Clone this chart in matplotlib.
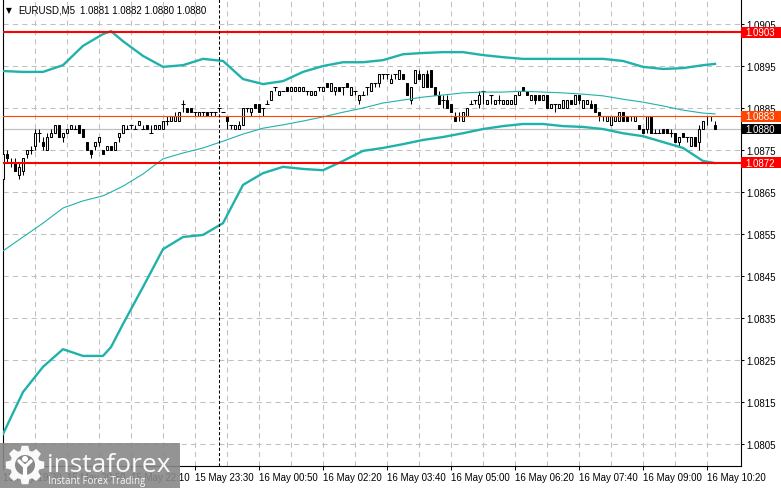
import numpy as np
import matplotlib
matplotlib.use("Agg")
import matplotlib.pyplot as plt
from matplotlib.patches import Rectangle, Polygon, Circle
from matplotlib.transforms import blended_transform_factory

plt.rcParams['font.family'] = ['Liberation Sans', 'DejaVu Sans']

# EURUSD M5 candles (4-digit quotes), oldest first
opens = [
    1.0868, 1.0874, 1.0872, 1.0872, 1.0869, 1.0870, 1.0874, 1.0875, 1.0876, 1.0879, 1.0877, 1.0875, 1.0878, 1.0879, 1.0881, 1.0878,
    1.0879, 1.0880, 1.0880, 1.0881, 1.0880, 1.0877, 1.0875, 1.0876, 1.0877, 1.0875, 1.0875, 1.0876, 1.0875, 1.0878, 1.0879, 1.0880,
    1.0881, 1.0880, 1.0881, 1.0880, 1.0881, 1.0879, 1.0880, 1.0880, 1.0880, 1.0882, 1.0882, 1.0882, 1.0882, 1.0886, 1.0885, 1.0885,
    1.0884, 1.0883, 1.0884, 1.0884, 1.0884, 1.0884, 1.0885, 1.0884, 1.0883, 1.0881, 1.0880, 1.0880, 1.0881, 1.0885, 1.0884, 1.0886,
    1.0886, 1.0885, 1.0886, 1.0887, 1.0890, 1.0888, 1.0889, 1.0890, 1.0889, 1.0889, 1.0889, 1.0889, 1.0889, 1.0888, 1.0888, 1.0890,
    1.0889, 1.0891, 1.0889, 1.0889, 1.0890, 1.0890, 1.0891, 1.0888, 1.0889, 1.0887, 1.0888, 1.0890, 1.0889, 1.0891, 1.0891, 1.0893,
    1.0893, 1.0891, 1.0893, 1.0892, 1.0893, 1.0891, 1.0887, 1.0891, 1.0893, 1.0890, 1.0893, 1.0894, 1.0890, 1.0888, 1.0887, 1.0887,
    1.0886, 1.0883, 1.0883, 1.0882, 1.0883, 1.0886, 1.0887, 1.0886, 1.0889, 1.0886, 1.0888, 1.0886, 1.0887, 1.0886, 1.0886, 1.0886,
    1.0886, 1.0888, 1.0890, 1.0889, 1.0887, 1.0888, 1.0888, 1.0887, 1.0888, 1.0885, 1.0886, 1.0885, 1.0885, 1.0885, 1.0887, 1.0886,
    1.0888, 1.0885, 1.0886, 1.0886, 1.0886, 1.0884, 1.0883, 1.0882, 1.0881, 1.0882, 1.0882, 1.0884, 1.0883, 1.0883, 1.0882, 1.0881,
    1.0880, 1.0880, 1.0883, 1.0879, 1.0879, 1.0880, 1.0880, 1.0879, 1.0879, 1.0877, 1.0879, 1.0878, 1.0876, 1.0878, 1.0877, 1.0880,
    1.0883, 1.0883, 1.0881]
highs = [
    1.0875, 1.0875, 1.0873, 1.0873, 1.0872, 1.0873, 1.0875, 1.0876, 1.0880, 1.0880, 1.0878, 1.0879, 1.0880, 1.0881, 1.0881, 1.0879,
    1.0880, 1.0881, 1.0881, 1.0881, 1.0880, 1.0877, 1.0875, 1.0877, 1.0878, 1.0875, 1.0876, 1.0876, 1.0877, 1.0879, 1.0881, 1.0881,
    1.0881, 1.0881, 1.0882, 1.0881, 1.0881, 1.0881, 1.0881, 1.0881, 1.0882, 1.0883, 1.0883, 1.0884, 1.0884, 1.0887, 1.0885, 1.0885,
    1.0884, 1.0884, 1.0884, 1.0884, 1.0884, 1.0884, 1.0885, 1.0884, 1.0883, 1.0881, 1.0881, 1.0882, 1.0885, 1.0885, 1.0885, 1.0886,
    1.0886, 1.0885, 1.0887, 1.0889, 1.0890, 1.0889, 1.0889, 1.0890, 1.0890, 1.0890, 1.0890, 1.0890, 1.0889, 1.0889, 1.0889, 1.0890,
    1.0890, 1.0891, 1.0891, 1.0890, 1.0890, 1.0890, 1.0891, 1.0890, 1.0889, 1.0888, 1.0889, 1.0890, 1.0891, 1.0891, 1.0893, 1.0893,
    1.0893, 1.0893, 1.0893, 1.0894, 1.0893, 1.0891, 1.0890, 1.0894, 1.0894, 1.0893, 1.0894, 1.0894, 1.0890, 1.0889, 1.0888, 1.0888,
    1.0886, 1.0884, 1.0884, 1.0884, 1.0885, 1.0887, 1.0887, 1.0889, 1.0889, 1.0887, 1.0888, 1.0887, 1.0888, 1.0887, 1.0887, 1.0887,
    1.0888, 1.0889, 1.0890, 1.0889, 1.0888, 1.0888, 1.0888, 1.0888, 1.0888, 1.0886, 1.0886, 1.0886, 1.0887, 1.0887, 1.0887, 1.0888,
    1.0888, 1.0887, 1.0887, 1.0887, 1.0886, 1.0884, 1.0883, 1.0883, 1.0883, 1.0883, 1.0884, 1.0884, 1.0883, 1.0883, 1.0883, 1.0881,
    1.0880, 1.0883, 1.0883, 1.0880, 1.0880, 1.0880, 1.0880, 1.0880, 1.0879, 1.0878, 1.0879, 1.0878, 1.0878, 1.0878, 1.0881, 1.0882,
    1.0883, 1.0883, 1.0882]
lows = [
    1.0866, 1.0872, 1.0871, 1.0870, 1.0868, 1.0869, 1.0873, 1.0874, 1.0875, 1.0877, 1.0875, 1.0875, 1.0878, 1.0879, 1.0878, 1.0877,
    1.0879, 1.0880, 1.0880, 1.0879, 1.0878, 1.0875, 1.0873, 1.0875, 1.0876, 1.0874, 1.0875, 1.0875, 1.0875, 1.0877, 1.0879, 1.0880,
    1.0880, 1.0880, 1.0881, 1.0880, 1.0880, 1.0879, 1.0880, 1.0880, 1.0880, 1.0881, 1.0882, 1.0882, 1.0882, 1.0884, 1.0884, 1.0884,
    1.0883, 1.0883, 1.0883, 1.0883, 1.0883, 1.0883, 1.0884, 1.0884, 1.0880, 1.0880, 1.0880, 1.0880, 1.0881, 1.0884, 1.0883, 1.0885,
    1.0884, 1.0883, 1.0886, 1.0887, 1.0889, 1.0888, 1.0889, 1.0889, 1.0889, 1.0889, 1.0889, 1.0889, 1.0888, 1.0888, 1.0888, 1.0889,
    1.0889, 1.0890, 1.0889, 1.0888, 1.0889, 1.0888, 1.0890, 1.0888, 1.0888, 1.0886, 1.0888, 1.0888, 1.0889, 1.0890, 1.0890, 1.0892,
    1.0892, 1.0891, 1.0892, 1.0892, 1.0892, 1.0888, 1.0886, 1.0891, 1.0892, 1.0890, 1.0890, 1.0890, 1.0888, 1.0886, 1.0885, 1.0885,
    1.0884, 1.0882, 1.0882, 1.0882, 1.0883, 1.0886, 1.0886, 1.0885, 1.0886, 1.0886, 1.0886, 1.0886, 1.0886, 1.0886, 1.0886, 1.0886,
    1.0886, 1.0888, 1.0889, 1.0888, 1.0887, 1.0886, 1.0887, 1.0887, 1.0885, 1.0885, 1.0884, 1.0885, 1.0885, 1.0885, 1.0886, 1.0886,
    1.0886, 1.0885, 1.0886, 1.0885, 1.0884, 1.0882, 1.0882, 1.0882, 1.0881, 1.0882, 1.0882, 1.0882, 1.0882, 1.0882, 1.0882, 1.0880,
    1.0879, 1.0879, 1.0879, 1.0879, 1.0879, 1.0879, 1.0879, 1.0878, 1.0877, 1.0876, 1.0878, 1.0877, 1.0876, 1.0876, 1.0875, 1.0880,
    1.0881, 1.0882, 1.0880]
closes = [
    1.0874, 1.0873, 1.0872, 1.0870, 1.0871, 1.0873, 1.0875, 1.0875, 1.0879, 1.0879, 1.0876, 1.0878, 1.0879, 1.0881, 1.0878, 1.0879,
    1.0880, 1.0881, 1.0880, 1.0879, 1.0878, 1.0875, 1.0874, 1.0877, 1.0878, 1.0874, 1.0876, 1.0875, 1.0877, 1.0879, 1.0881, 1.0880,
    1.0881, 1.0880, 1.0882, 1.0880, 1.0880, 1.0879, 1.0881, 1.0881, 1.0882, 1.0882, 1.0883, 1.0883, 1.0884, 1.0886, 1.0884, 1.0884,
    1.0884, 1.0884, 1.0884, 1.0883, 1.0884, 1.0884, 1.0885, 1.0884, 1.0882, 1.0881, 1.0881, 1.0881, 1.0885, 1.0885, 1.0885, 1.0885,
    1.0884, 1.0885, 1.0886, 1.0889, 1.0890, 1.0889, 1.0889, 1.0889, 1.0890, 1.0890, 1.0890, 1.0890, 1.0889, 1.0889, 1.0889, 1.0890,
    1.0890, 1.0890, 1.0891, 1.0890, 1.0889, 1.0890, 1.0890, 1.0890, 1.0889, 1.0888, 1.0888, 1.0890, 1.0891, 1.0891, 1.0893, 1.0893,
    1.0893, 1.0892, 1.0893, 1.0894, 1.0892, 1.0888, 1.0890, 1.0894, 1.0892, 1.0893, 1.0890, 1.0890, 1.0888, 1.0886, 1.0887, 1.0885,
    1.0884, 1.0882, 1.0883, 1.0884, 1.0885, 1.0886, 1.0887, 1.0888, 1.0889, 1.0887, 1.0888, 1.0887, 1.0887, 1.0887, 1.0887, 1.0887,
    1.0888, 1.0889, 1.0889, 1.0888, 1.0888, 1.0887, 1.0887, 1.0888, 1.0885, 1.0886, 1.0886, 1.0886, 1.0887, 1.0887, 1.0886, 1.0888,
    1.0887, 1.0887, 1.0887, 1.0885, 1.0884, 1.0883, 1.0883, 1.0883, 1.0883, 1.0883, 1.0884, 1.0882, 1.0882, 1.0883, 1.0883, 1.0880,
    1.0879, 1.0883, 1.0879, 1.0879, 1.0879, 1.0879, 1.0879, 1.0879, 1.0877, 1.0878, 1.0878, 1.0878, 1.0878, 1.0876, 1.0880, 1.0882,
    1.0883, 1.0883, 1.0880]

# Bollinger bands at these bar numbers
band_idx = [0, 5, 10, 15, 20, 25, 27, 30, 35, 40, 45, 50, 55, 60, 65, 70, 75, 80, 85, 90,
            95, 100, 105, 110, 115, 120, 125, 130, 135, 140, 145, 150, 155, 160, 165, 170, 175, 178]
upper_band = [1.08938, 1.08936, 1.08936, 1.08952, 1.08998, 1.09026, 1.09033, 1.09009, 1.08974, 1.08948,
              1.08952, 1.08967, 1.08962, 1.08919, 1.08907, 1.08914, 1.08936, 1.08950, 1.08959, 1.08959,
              1.08964, 1.08978, 1.08981, 1.08983, 1.08983, 1.08976, 1.08971, 1.08967, 1.08967, 1.08967,
              1.08967, 1.08967, 1.08962, 1.08948, 1.08943, 1.08945, 1.08952, 1.08955]
middle_band = [1.08510, 1.08543, 1.08576, 1.08612, 1.08629, 1.08641, 1.08650, 1.08664, 1.08693, 1.08729,
               1.08743, 1.08755, 1.08771, 1.08788, 1.08802, 1.08810, 1.08819, 1.08829, 1.08840, 1.08850,
               1.08862, 1.08869, 1.08876, 1.08881, 1.08886, 1.08888, 1.08888, 1.08890, 1.08888, 1.08886,
               1.08883, 1.08879, 1.08871, 1.08864, 1.08855, 1.08845, 1.08838, 1.08836]
lower_band = [1.08074, 1.08174, 1.08234, 1.08276, 1.08260, 1.08260, 1.08281, 1.08336, 1.08424, 1.08514,
              1.08543, 1.08548, 1.08576, 1.08667, 1.08695, 1.08710, 1.08705, 1.08702, 1.08724, 1.08748,
              1.08755, 1.08764, 1.08774, 1.08781, 1.08790, 1.08800, 1.08807, 1.08812, 1.08812, 1.08807,
              1.08805, 1.08800, 1.08790, 1.08783, 1.08769, 1.08755, 1.08724, 1.08719]

time_tick_idx = [0, 16, 32, 48, 64, 80, 96, 112, 128, 144, 160, 176]
time_tick_labels = ['15 May 19:30', '15 May 20:50', '15 May 22:10', '15 May 23:30',
                    '16 May 00:50', '16 May 02:20', '16 May 03:40', '16 May 05:00',
                    '16 May 06:20', '16 May 07:40', '16 May 09:00', '16 May 10:20']
price_ticks = [1.0805, 1.0815, 1.0825, 1.0835, 1.0845, 1.0855, 1.0865, 1.0875, 1.0885, 1.0895, 1.0905]
day_separator_idx = 54

red_levels = [1.0903, 1.0872]
marked_level = 1.0883
bid = 1.0880
header = "1.0881 1.0882 1.0880 1.0880"

W, H = 781, 489
fig = plt.figure(figsize=(W / 100, H / 100), dpi=100)
fig.patch.set_facecolor('white')
ax = fig.add_axes([2.5 / W, 22 / H, 738 / W, 467 / H])
ax.set_facecolor('white')

o = np.array(opens)
h = np.array(highs)
l = np.array(lows)
c = np.array(closes)
idx = np.arange(len(c))

ax.set_xlim(-0.125, 184.375)
ax.set_ylim(1.07998, 1.091095)

# grid
ax.set_yticks(price_ticks)
ax.set_yticklabels([f"{p:.4f}" for p in price_ticks])
ax.set_xticks(time_tick_idx)
ax.set_xticklabels(time_tick_labels, ha='left')
ax.set_xticks(np.arange(8, 184, 16), minor=True)
ax.grid(True, which='both', color='#c0c0c0', lw=0.75, ls=(0, (5, 4)), zorder=0)
ax.set_axisbelow(True)

# candles
ax.vlines(idx, l, h, color='black', lw=0.75, zorder=3)
up = c > o
dn = c < o
flat = c == o
ax.bar(idx[up], (c - o)[up], bottom=o[up], width=0.5, facecolor='white',
       edgecolor='black', lw=0.75, zorder=4)
ax.bar(idx[dn], (o - c)[dn], bottom=c[dn], width=0.5, facecolor='black',
       edgecolor='black', lw=0.75, zorder=4)
ax.hlines(c[flat], idx[flat] - 0.4, idx[flat] + 0.4, color='black', lw=0.75, zorder=4)

# bands
teal = '#20B2AA'
ax.plot(band_idx, upper_band, color=teal, lw=1.7, zorder=5)
ax.plot(band_idx, middle_band, color=teal, lw=0.8, zorder=5)
ax.plot(band_idx, lower_band, color=teal, lw=1.7, zorder=5)

# level lines
ax.axhline(bid, color='#c0c0c0', lw=0.9, zorder=2)
for lvl in red_levels:
    ax.axhline(lvl, color='#ff0000', lw=1.5, zorder=6)
ax.axhline(marked_level, color='#ff4500', lw=0.8, zorder=6)
ax.axvline(day_separator_idx, color='black', lw=0.75, ls=(0, (3, 2)), zorder=6)

# axes look
for s in ['left', 'right', 'bottom']:
    ax.spines[s].set_color('black')
    ax.spines[s].set_linewidth(0.8)
ax.spines['top'].set_visible(False)
ax.yaxis.tick_right()
ax.tick_params(axis='y', direction='out', length=2.5, width=0.75, pad=1.5, labelsize=7)
ax.tick_params(axis='x', which='major', direction='out', length=3, width=0.75, pad=1.5, labelsize=7)
ax.tick_params(axis='x', which='minor', length=0)

# price boxes on the right scale
trans = blended_transform_factory(ax.transAxes, ax.transData)
box_h = 0.00025
for price, face in [(red_levels[0], '#ff0000'), (marked_level, '#ff4500'),
                    (bid, 'black'), (red_levels[1], '#ff0000')]:
    ax.add_patch(Rectangle((1.0, price - box_h / 2), 0.06, box_h, transform=trans,
                           facecolor=face, edgecolor='none', clip_on=False, zorder=10))
    ax.text(1.0 + 4.5 / 738, price, f"{price:.4f}", transform=trans, color='white',
            fontsize=7, va='center', ha='left', clip_on=False, zorder=11)

# header
fig.text(6 / W, 1 - 10.5 / H, "\u25bc", family=['DejaVu Sans'], fontsize=5.5,
         va='center', ha='left')
fig.text(18 / W, 1 - 10.5 / H, "EURUSD,M5", fontsize=7, va='center', ha='left')
fig.text(80 / W, 1 - 10.5 / H, header, fontsize=7, va='center', ha='left')

# watermark
ov = fig.add_axes([0, 0, 1, 1], zorder=20)
ov.set_xlim(0, W)
ov.set_ylim(H, 0)
ov.axis('off')
ov.add_patch(Rectangle((0, 444), 180, 45, facecolor='#888888', alpha=0.9, edgecolor='none'))
cx, cy = 25, 466
ang = np.linspace(0, 2 * np.pi, 8, endpoint=False)
pts = []
for a in ang:
    for da, r in [(-0.30, 15), (-0.17, 19.5), (0.17, 19.5), (0.30, 15)]:
        pts.append((cx + r * np.cos(a + da), cy + r * np.sin(a + da)))
ov.add_patch(Polygon(pts, closed=True, facecolor='white', edgecolor='none', alpha=0.95))
ov.add_patch(Circle((cx, cy), 10, facecolor='#888888', edgecolor='none'))
ov.add_patch(Circle((cx, cy - 6), 3, facecolor='white', edgecolor='none'))
ov.plot([cx - 6, cx, cx + 6], [cy - 4, cy + 2, cy - 4], color='white', lw=2.5, solid_capstyle='round')
ov.plot([cx, cx], [cy + 1, cy + 12], color='white', lw=3)
ov.text(47, 472, "instaforex", family=['Open Sans', 'DejaVu Sans'], fontsize=19,
        color='white', va='baseline', ha='left', alpha=0.95)
ov.text(48, 484, "Instant Forex Trading", family=['Open Sans', 'DejaVu Sans'], fontsize=7,
        color='white', va='baseline', ha='left', alpha=0.95)

fig.savefig('out.png', dpi=100, facecolor='white')
